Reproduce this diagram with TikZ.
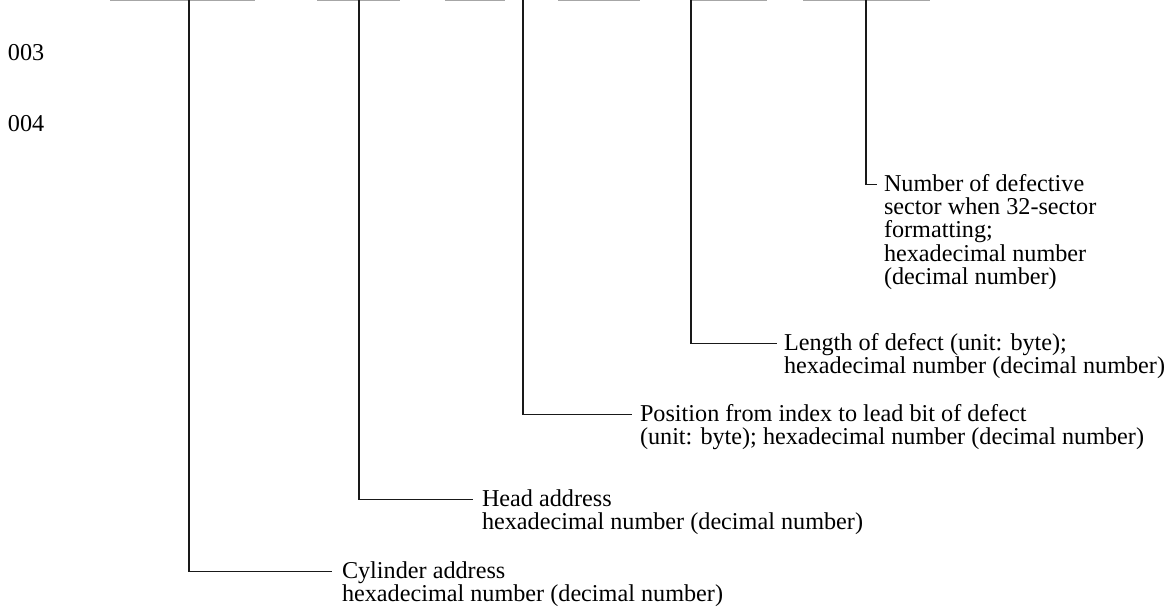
\documentclass[tikz,border=0pt]{standalone}
\usepackage{fontspec}
\setmainfont{Liberation Serif}
\newcommand{\leftstack}[1]{\vtop{\baselineskip=23.4pt\lineskiplimit=-100pt\lineskip=0pt\halign{##\hfil\cr#1\crcr}}}
\begin{document}
\begin{tikzpicture}[x=1pt,y=-1pt,
  every node/.style={font=\fontsize{24.2}{23.4}\selectfont},
  lbl/.style={anchor=base west, inner sep=0pt, outer sep=0pt},
  lead/.style={line width=1.5pt, draw=black!90},
  topline/.style={line width=1.4pt, draw=black!35}]
\useasboundingbox (0,0) rectangle (1169,613);
% faint remnants of the rule at the top edge
\foreach \a/\b in {110/255, 317/400, 445/505, 558/640, 690/767, 803/930}
  \draw[topline] (\a,0.7) -- (\b,0.7);
% row numbers
\node[lbl] (r003) at (8,60) {003};
\node[lbl] (r004) at (8,131) {004};
% tops of the leader lines
\coordinate (tCyl) at (189,0);
\coordinate (tHead) at (359,0);
\coordinate (tPos) at (523,0);
\coordinate (tLen) at (691,0);
\coordinate (tNum) at (866,0);
% labels
\node[lbl] (num) at (884,191) {\leftstack{Number of defective\cr sector when 32-sector\cr formatting;\cr hexadecimal number\cr (decimal number)}};
\node[lbl] (len) at (784,350) {\leftstack{Length of defect (unit: byte);\cr hexadecimal number (decimal number)}};
\node[lbl] (pos) at (640,421) {\leftstack{Position from index to lead bit of defect\cr (unit: byte); hexadecimal number (decimal number)}};
\node[lbl] (head) at (482,506) {\leftstack{Head address\cr hexadecimal number (decimal number)}};
\node[lbl] (cyl) at (342,578) {\leftstack{Cylinder address\cr hexadecimal number (decimal number)}};
% leaders
\draw[lead] (tNum) |- ([xshift=-7pt,yshift=6.5pt]num.base west);
\draw[lead] (tLen) |- ([xshift=-7pt,yshift=6.5pt]len.base west);
\draw[lead] (tPos) |- ([xshift=-8pt,yshift=6.5pt]pos.base west);
\draw[lead] (tHead) |- ([xshift=-9pt,yshift=6.5pt]head.base west);
\draw[lead] (tCyl) |- ([xshift=-10pt,yshift=6.5pt]cyl.base west);
\end{tikzpicture}
\end{document}
